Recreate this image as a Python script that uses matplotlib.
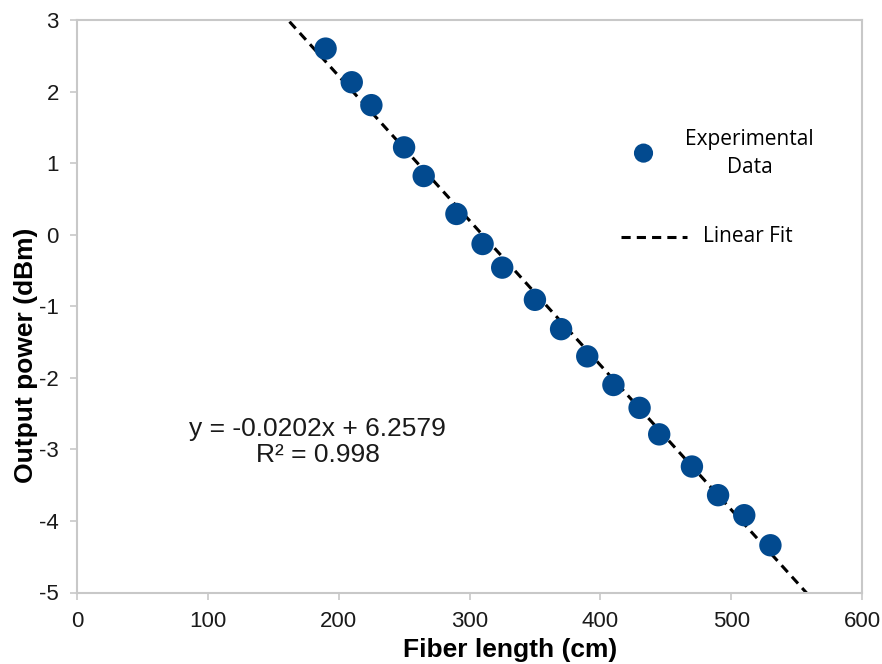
import numpy as np
import matplotlib.pyplot as plt

plt.rcParams['axes.unicode_minus'] = False

# fiber length (cm) and measured output power (dBm)
fiber_length = [190, 210, 225, 250, 265, 290, 310, 325, 350, 370, 390, 410, 430, 445, 470, 490, 510, 530]
output_power = [2.60, 2.13, 1.81, 1.22, 0.82, 0.29, -0.13, -0.46, -0.91, -1.32, -1.70, -2.10, -2.42, -2.79,
                -3.24, -3.64, -3.92, -4.34]

# linear fit coefficients as printed on the chart
slope = -0.0202
intercept = 6.2579
r_squared = 0.998

x_ticks = [0, 100, 200, 300, 400, 500, 600]
y_ticks = [-5, -4, -3, -2, -1, 0, 1, 2, 3]

fig = plt.figure(figsize=(8.82, 6.64), dpi=100)
ax = fig.add_axes([77 / 882, 1 - 592.5 / 664, (862 - 77) / 882, (592.5 - 20) / 664])

fit_x = np.array([0, 600])
fit_y = slope * fit_x + intercept
ax.plot(fit_x, fit_y, linestyle=(0, (3.0, 2.0)), color='black', linewidth=2.2, zorder=2)
ax.scatter(fiber_length, output_power, s=260, color='#024a8f', edgecolors='none', zorder=3)

ax.set_xlim(0, 600)
ax.set_ylim(-5, 3)
ax.set_xticks(x_ticks)
ax.set_yticks(y_ticks)
for s in ax.spines.values():
    s.set_color('#c8c8c8')
    s.set_linewidth(1.5)
ax.tick_params(axis='both', colors='#c8c8c8', length=5, width=1.2, direction='out',
               labelcolor='#1a1a1a', labelsize=16)
for lab in ax.get_xticklabels() + ax.get_yticklabels():
    lab.set_family('Liberation Sans')
ax.tick_params(axis='x', pad=8)
ax.tick_params(axis='y', pad=8)

ax.set_xlabel('Fiber length (cm)', fontsize=19, fontweight='bold', family='Liberation Sans', va='top')
ax.set_ylabel('Output power (dBm)', fontsize=19, fontweight='bold', family='Liberation Sans')
ax.xaxis.set_label_coords(0.552, -0.079)
ax.yaxis.set_label_coords(-0.05, 0.415)

ax.text(184, -2.90, f'y = {slope}x + {intercept}\nR\u00b2 = {r_squared}', ha='center', va='center',
        fontsize=19, family='Liberation Sans', linespacing=1.1, color='#1a1a1a')

# legend drawn by hand to match the original layout
ax.scatter([433], [1.14], s=190, color='#024a8f', edgecolors='none')
ax.text(514, 1.14, 'Experimental\nData', ha='center', va='center', fontsize=15,
        family='Open Sans', linespacing=1.45)
ax.plot([416, 466], [-0.03, -0.03], linestyle=(0, (3.0, 2.0)), color='black', linewidth=2.2)
ax.text(478.5, -0.03, 'Linear Fit', ha='left', va='center', fontsize=15, family='Open Sans')

fig.savefig('out.png', dpi=100)
